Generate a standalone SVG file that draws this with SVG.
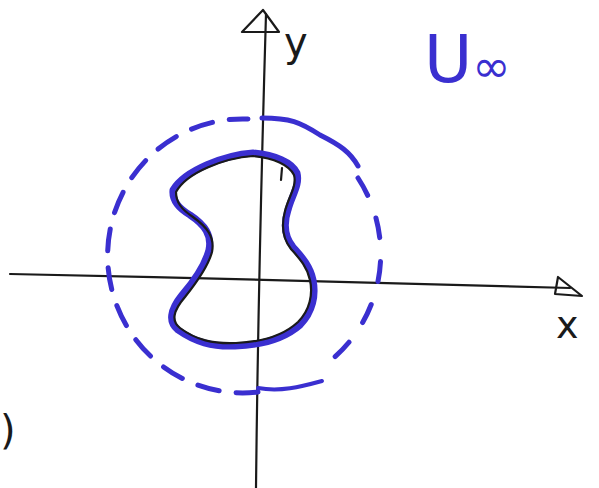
<svg xmlns="http://www.w3.org/2000/svg" width="599" height="488" viewBox="0 0 599 488">
<style>
.ax{fill:none;stroke:#1a1a1a;stroke-width:2.2;stroke-linecap:round;stroke-linejoin:round}
.bl{fill:none;stroke:#3a2fd0;stroke-linecap:round;stroke-linejoin:round}
.lbl{font-family:"DejaVu Sans",sans-serif;fill:#1a1a1a}
</style>
<rect width="599" height="488" fill="#ffffff"/>
<g id="axes">
<path class="ax" d="M266,14 C262,150 258,300 256,488"/>
<path class="ax" d="M263,10 L242,32 L279,32 Z"/>
<path class="ax" d="M10,274 C200,278 400,282 570,288"/>
<path class="ax" d="M558,277 L555,294 L582,296 Z"/>
</g>
<g id="circle">
<path class="bl" stroke-width="5" stroke-dasharray="20 24" d="M358,178 A135,137 0 0 1 316,371"/>
<path class="bl" stroke-width="5" stroke-dasharray="22 17" d="M258,392 A135,137 0 1 1 248,119"/>
<path class="bl" stroke-width="5" d="M262,118 C290,118 300,122 320,135 C340,145 350,152 358,166"/>
<path class="bl" stroke-width="4" d="M258,388 C280,392 300,387 322,381"/>
</g>
<g id="body">
<path class="bl" stroke-width="7" d="M253,153 C225,155 185,170 173,190 C172,200 178,208 190,215 C205,225 212,235 209,250 C205,265 195,280 182,295 C170,310 168,322 178,330 C195,342 212,347 235,346 C262,345 285,338 300,325 C313,312 316,295 313,280 C310,265 300,255 293,247 C285,237 283,225 288,210 C292,195 300,185 297,173 C292,162 275,155 253,153 Z"/>
<path class="ax" stroke-width="2" d="M253,156 C225,158 187,172 176,192 C176,202 181,209 193,217 C207,227 215,237 212,252 C208,267 197,282 185,297 C173,311 171,321 180,328 C196,340 213,344 236,343 C262,342 284,335 298,322 C310,310 313,294 310,280 C307,266 298,257 291,249 C283,239 281,226 285,211 C289,196 297,186 294,175 C289,165 274,158 253,156 Z"/>
<path class="ax" stroke-width="2" d="M282,168 L281,180"/>
</g>
<g id="labels">
<text class="lbl" x="284" y="56" font-size="40">y</text>
<text class="lbl" x="556" y="338" font-size="38">x</text>
<text class="lbl" x="0" y="444" font-size="40">)</text>
<text x="424" y="82" font-family="DejaVu Sans, sans-serif" font-size="66" fill="#3a2fd0">U<tspan font-size="46">∞</tspan></text>
</g>
</svg>
